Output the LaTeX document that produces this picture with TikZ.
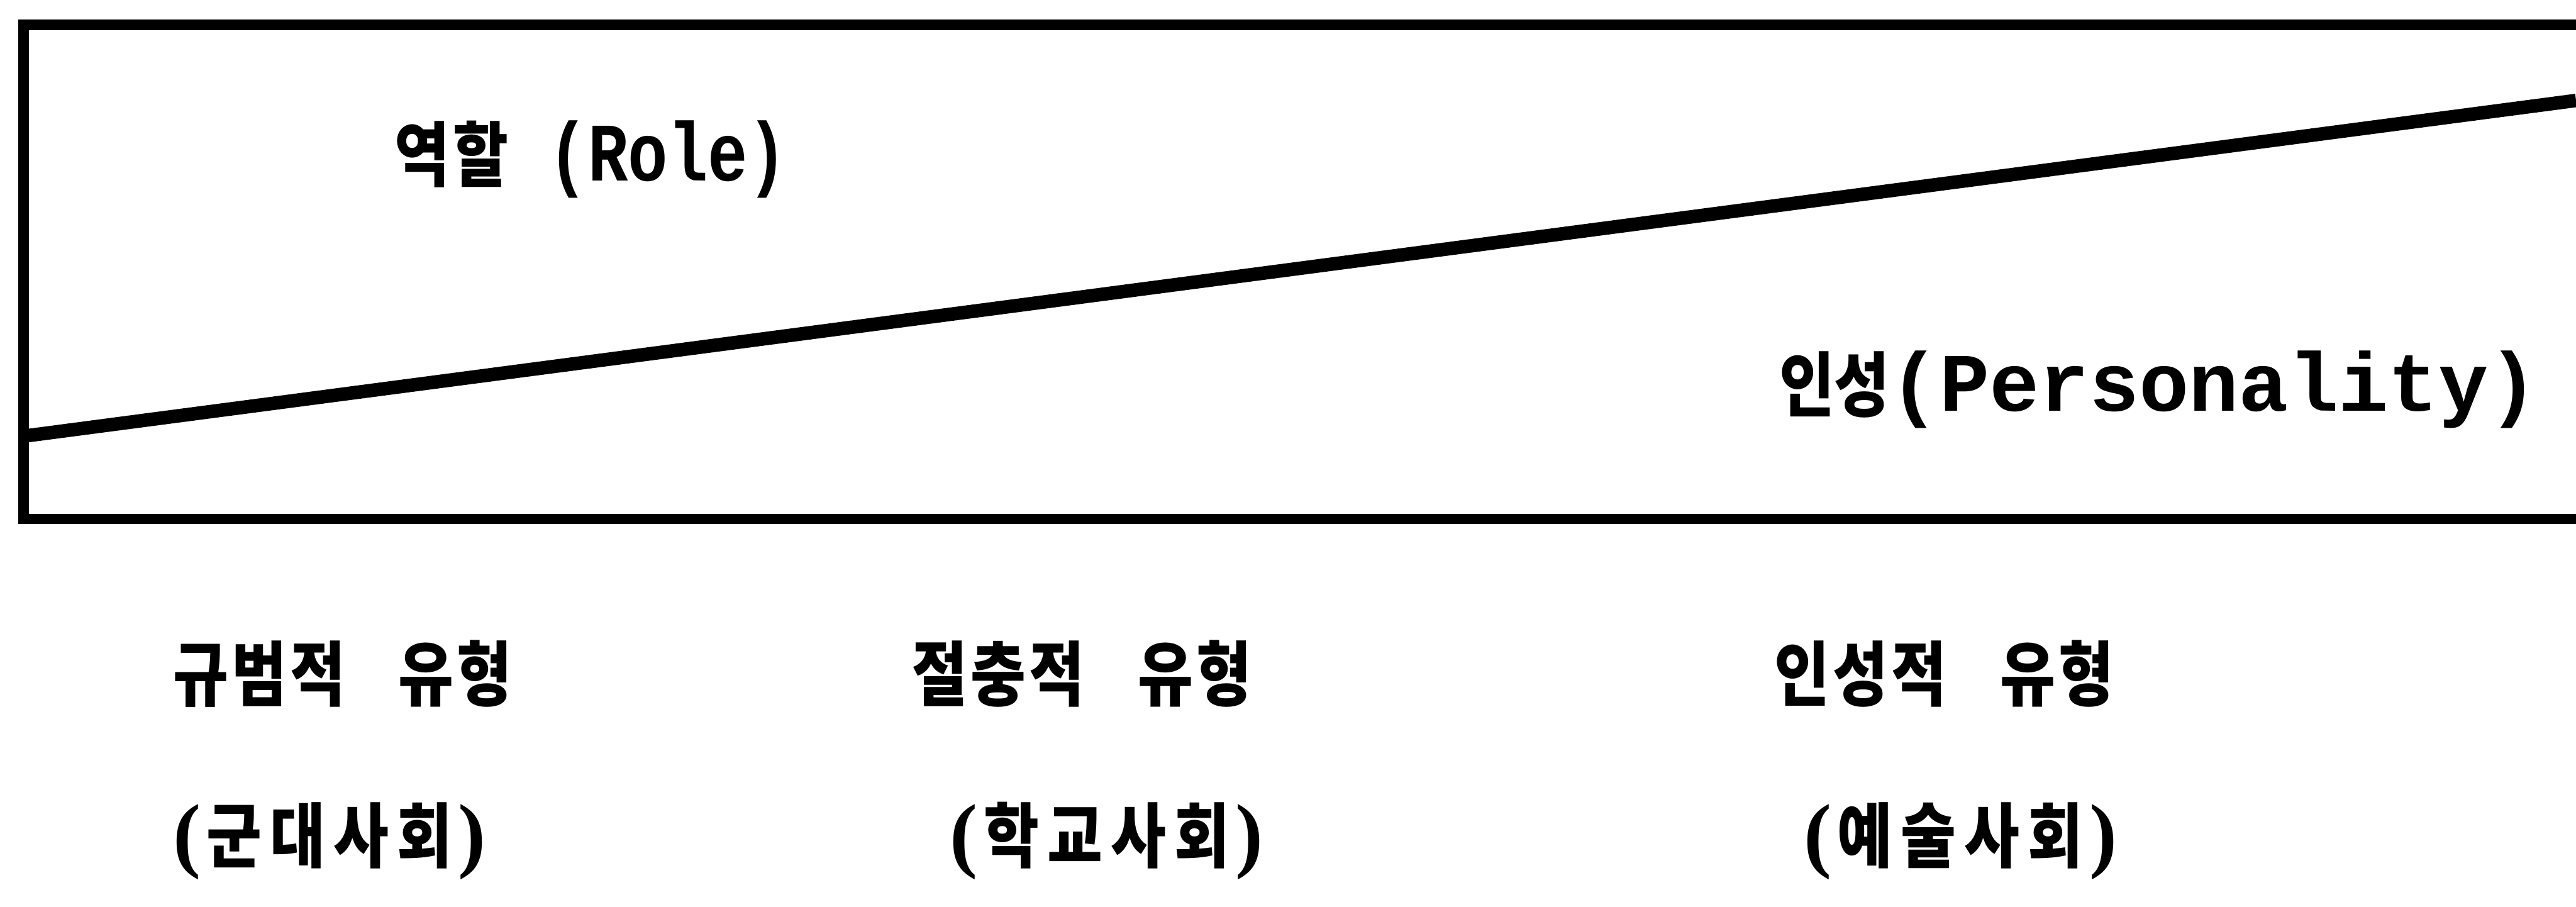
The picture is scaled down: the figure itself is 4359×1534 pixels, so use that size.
\documentclass[tikz,border=0pt]{standalone}
\usepackage{fontspec}
\newfontfamily\kr[FakeStretch=0.85]{Noto Sans CJK KR}
\newfontfamily\lat{Liberation Mono}
\newfontfamily\latc[FakeStretch=0.8]{Liberation Mono}
\newfontfamily\pserif{Liberation Serif}
\tikzset{
  frame/.style={line width=5pt, line cap=rect},
  divider/.style={line width=6.5pt},
  lbl/.style={inner sep=0pt, anchor=west, font=\bfseries\fontsize{34}{34}\selectfont},
}
\newcommand{\K}[1]{{\kr\bfseries #1}}
\newcommand{\Lt}[1]{{\lat\bfseries\fontsize{40}{40}\selectfont #1}}
\newcommand{\Lc}[1]{{\latc\bfseries\fontsize{40}{40}\selectfont #1}}
\newcommand{\Pa}[1]{{\pserif\bfseries\fontsize{40}{40}\selectfont #1}}
\newcommand{\ga}{\kern0.055cm}
\newcommand{\gb}{\kern0.14cm}
\newcommand{\cell}{\hspace{0.9cm}}
\begin{document}
\begin{tikzpicture}[x=0.01cm,y=-0.01cm]
\clip (0,0) rectangle (4359,1534);
\fill[white] (0,0) rectangle (4359,1534);
% frame (open to the right, cut by the picture edge)
\coordinate (tr) at (4450,42);
\coordinate (tl) at (40,42);
\coordinate (bl) at (40,878);
\coordinate (br) at (4450,878);
\draw[frame] (tr) -- (tl) -- (bl) -- (br);
% dividing line
\coordinate (dl) at (40,738);
\coordinate (dr) at (4359,170);
\draw[divider] (dl) -- (dr);
% labels
\node[lbl] (role) at (667,270) {\K{역\ga 할}\Lc{ (Role)}};
\node[lbl] (pers) at (3010,659) {\K{인성}\Lt{(Personality)}};
\node[lbl] (t1) at (292,1140) {\K{규\ga 범\ga 적\cell 유\ga 형}};
\node[lbl] (t2) at (1543,1140) {\K{절\ga 충\ga 적\cell 유\ga 형}};
\node[lbl] (t3) at (3002,1140) {\K{인\ga 성\ga 적\cell 유\ga 형}};
\node[lbl] (s1) at (292,1423) {\Pa{(}\kern0.1cm\K{군\gb 대\gb 사\gb 회}\kern0.1cm\Pa{)}};
\node[lbl] (s2) at (1607,1423) {\Pa{(}\kern0.1cm\K{학\gb 교\gb 사\gb 회}\kern0.1cm\Pa{)}};
\node[lbl] (s3) at (3052,1423) {\Pa{(}\kern0.1cm\K{예\gb 술\gb 사\gb 회}\kern0.1cm\Pa{)}};
\end{tikzpicture}
\end{document}
